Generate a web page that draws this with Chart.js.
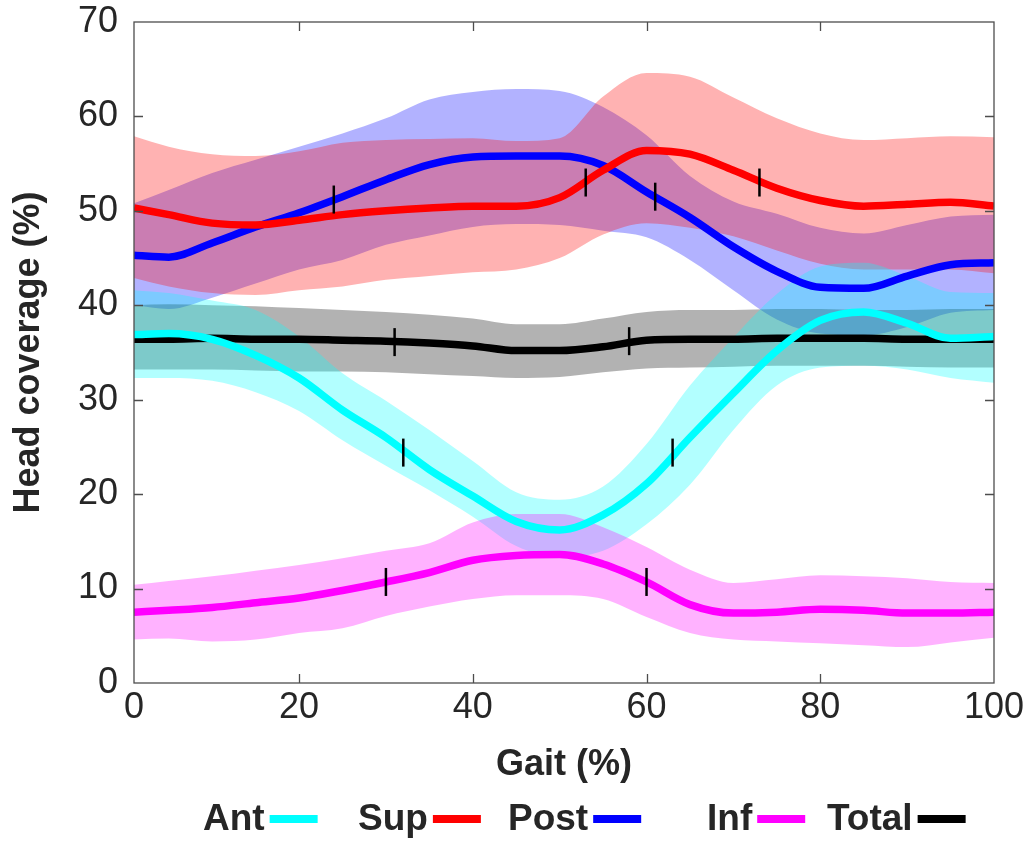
<!DOCTYPE html>
<html>
<head>
<meta charset="utf-8">
<script src="https://cdn.jsdelivr.net/npm/chart.js@4.4.1/dist/chart.umd.min.js"></script>
<style>
  html, body { margin: 0; background: #fff; }
  #wrap { width: 1033px; height: 842px; }
</style>
</head>
<body>
<div id="wrap"><canvas id="chart" width="1033" height="842"></canvas></div>
<script>
// gait cycle samples (%)
const gait = [1, 5, 10, 15, 20, 25, 30, 35, 40, 45, 50, 55, 60, 65, 70, 75, 80, 85, 90, 95, 100];

// head coverage (%) - mean and band edges
const antMean  = [36.9, 37.0, 36.4, 34.7, 32.3, 28.9, 26.0, 22.6, 19.8, 17.1, 16.2, 17.8, 21.1, 26.0, 30.7, 35.2, 38.4, 39.3, 38.1, 36.5, 36.7];
const antUpper = [41.6, 41.3, 40.5, 39.5, 36.7, 32.8, 29.9, 26.8, 23.5, 20.2, 19.4, 20.8, 25.3, 31.5, 36.6, 41.2, 44.1, 44.5, 43.1, 41.4, 41.3];
const antLower = [32.3, 32.3, 32.0, 30.8, 28.8, 25.7, 23.0, 20.4, 17.6, 14.5, 13.3, 14.0, 16.8, 21.0, 26.8, 31.5, 33.4, 33.6, 33.2, 32.3, 31.8];

const supMean  = [50.3, 49.6, 48.7, 48.5, 49.0, 49.6, 50.0, 50.3, 50.5, 50.5, 51.4, 54.3, 56.4, 56.0, 54.3, 52.4, 51.1, 50.5, 50.7, 50.9, 50.5];
const supUpper = [57.9, 56.8, 56.0, 55.8, 56.3, 57.2, 57.5, 57.6, 57.7, 57.4, 57.7, 62.1, 64.6, 64.2, 62.0, 59.8, 58.2, 57.5, 57.7, 57.9, 57.8];
const supLower = [42.9, 42.0, 41.3, 41.1, 41.6, 42.0, 42.7, 43.1, 43.5, 43.8, 45.0, 47.5, 48.7, 48.2, 47.3, 45.8, 44.4, 43.8, 43.8, 43.8, 43.4];

const postMean  = [45.3, 45.1, 46.6, 48.3, 49.8, 51.5, 53.3, 54.9, 55.7, 55.8, 55.8, 54.8, 52.0, 49.3, 46.2, 43.6, 41.9, 41.8, 43.1, 44.3, 44.5];
const postUpper = [50.8, 52.2, 54.0, 55.4, 56.8, 58.2, 59.8, 61.8, 62.6, 62.9, 62.7, 61.0, 58.0, 53.7, 51.0, 49.7, 48.2, 47.6, 48.5, 49.4, 49.6];
const postLower = [40.0, 39.6, 40.8, 42.3, 43.8, 44.8, 46.4, 47.4, 48.3, 48.6, 48.5, 47.9, 47.2, 44.8, 41.6, 38.5, 37.0, 36.8, 37.7, 39.2, 39.5];

const infMean  = [7.5, 7.7, 8.0, 8.5, 9.0, 9.8, 10.7, 11.7, 13.0, 13.5, 13.6, 12.6, 10.7, 8.3, 7.4, 7.5, 7.8, 7.7, 7.4, 7.4, 7.5];
const infUpper = [10.4, 10.8, 11.3, 11.9, 12.5, 13.2, 14.0, 14.8, 17.0, 17.9, 17.9, 16.5, 14.4, 12.0, 10.6, 11.0, 11.4, 11.3, 11.1, 10.7, 10.6];
const infLower = [4.6, 4.7, 4.4, 4.6, 5.3, 5.8, 7.1, 8.1, 8.9, 9.3, 9.3, 8.9, 7.0, 5.3, 4.6, 4.4, 4.2, 4.0, 3.8, 4.3, 4.8];

const totalMean  = [36.4, 36.4, 36.5, 36.4, 36.4, 36.3, 36.2, 36.0, 35.7, 35.2, 35.2, 35.6, 36.3, 36.4, 36.4, 36.5, 36.5, 36.5, 36.4, 36.4, 36.4];
const totalUpper = [40.0, 40.1, 40.0, 39.9, 39.7, 39.5, 39.3, 39.0, 38.6, 38.0, 38.0, 38.6, 39.3, 39.5, 39.5, 39.6, 39.6, 39.5, 39.5, 39.6, 39.6];
const totalLower = [33.2, 33.2, 33.2, 33.1, 33.0, 33.0, 32.9, 32.7, 32.5, 32.3, 32.4, 32.9, 33.3, 33.4, 33.5, 33.6, 33.6, 33.6, 33.5, 33.4, 33.4];

// short vertical event marks on each curve
const antMarkX = [32, 63],   antMarkY = [24.4, 24.4];
const supMarkX = [53, 73],   supMarkY = [53.0, 53.0];
const postMarkX = [24, 61],  postMarkY = [51.2, 51.5];
const infMarkX = [30, 60],   infMarkY = [10.7, 10.7];
const totalMarkX = [31, 58], totalMarkY = [36.1, 36.2];

// axes
const xTicks = [1, 20, 40, 60, 80, 100];
const xTickLabels = ['0', '20', '40', '60', '80', '100'];
const yTicks = [0, 10, 20, 30, 40, 50, 60, 70];

const seriesNames = ['Ant', 'Sup', 'Post', 'Inf', 'Total'];
const seriesColors = ['#00ffff', '#ff0000', '#0000ff', '#ff00ff', '#000000'];
const bandColors = ['rgba(0,255,255,0.3)', 'rgba(255,0,0,0.3)', 'rgba(0,0,255,0.3)', 'rgba(255,0,255,0.3)', 'rgba(0,0,0,0.3)'];

const FONT = '"Liberation Sans", Arial, Helvetica, sans-serif';
const TEXT = '#262626';
const AXIS = '#4d4d4d';

const pts = (xs, ys) => xs.map((x, i) => ({ x: x, y: ys[i] }));

const series = [
  { mean: antMean, up: antUpper, lo: antLower, mx: antMarkX, my: antMarkY },
  { mean: supMean, up: supUpper, lo: supLower, mx: supMarkX, my: supMarkY },
  { mean: postMean, up: postUpper, lo: postLower, mx: postMarkX, my: postMarkY },
  { mean: infMean, up: infUpper, lo: infLower, mx: infMarkX, my: infMarkY },
  { mean: totalMean, up: totalUpper, lo: totalLower, mx: totalMarkX, my: totalMarkY }
];
// stacking (higher order is drawn first, i.e. underneath)
const bandOrder = [17, 18, 20, 16, 19];
const lineOrder = [3, 1, 2, 5, 4];

const datasets = [];
series.forEach((s, i) => {
  // band: upper filled down to the next dataset (lower)
  datasets.push({
    label: seriesNames[i] + ' upper', data: pts(gait, s.up),
    borderWidth: 0, pointRadius: 0, backgroundColor: bandColors[i],
    fill: '+1', cubicInterpolationMode: 'monotone', order: bandOrder[i]
  });
  datasets.push({
    label: seriesNames[i] + ' lower', data: pts(gait, s.lo),
    borderWidth: 0, pointRadius: 0, fill: false, cubicInterpolationMode: 'monotone', order: bandOrder[i]
  });
});
series.forEach((s, i) => {
  datasets.push({
    label: seriesNames[i], data: pts(gait, s.mean),
    borderColor: seriesColors[i], borderWidth: 7.5, pointRadius: 0,
    fill: false, cubicInterpolationMode: 'monotone', order: lineOrder[i]
  });
});
series.forEach((s, i) => {
  datasets.push({
    type: 'scatter', label: seriesNames[i] + ' marks', data: pts(s.mx, s.my),
    pointStyle: 'line', rotation: 90, pointRadius: 14, borderWidth: 2.5,
    borderColor: '#000', backgroundColor: '#000', order: 0
  });
});

// box, inward ticks, axis titles and legend
const decorations = {
  id: 'decorations',
  afterDraw(chart) {
    const ctx = chart.ctx;
    const a = chart.chartArea;
    const xs = chart.scales.x, ys = chart.scales.y;
    ctx.save();
    ctx.strokeStyle = AXIS;
    ctx.lineWidth = 1.3;
    ctx.strokeRect(a.left, a.top, a.right - a.left, a.bottom - a.top);
    ctx.beginPath();
    xTicks.slice(1, -1).forEach(v => {
      const px = Math.round(xs.getPixelForValue(v)) + 0.5;
      ctx.moveTo(px, a.bottom); ctx.lineTo(px, a.bottom - 9);
      ctx.moveTo(px, a.top); ctx.lineTo(px, a.top + 9);
    });
    yTicks.slice(1, -1).forEach(v => {
      const py = Math.round(ys.getPixelForValue(v)) + 0.5;
      ctx.moveTo(a.left, py); ctx.lineTo(a.left + 9, py);
      ctx.moveTo(a.right, py); ctx.lineTo(a.right - 9, py);
    });
    ctx.stroke();

    // axis titles
    ctx.fillStyle = TEXT;
    ctx.font = 'bold 36px ' + FONT;
    ctx.textAlign = 'center';
    ctx.textBaseline = 'middle';
    ctx.fillText('Gait (%)', (a.left + a.right) / 2, 765);
    ctx.save();
    ctx.translate(29, (a.top + a.bottom) / 2);
    ctx.rotate(-Math.PI / 2);
    ctx.fillText('Head coverage (%)', 0, 0);
    ctx.restore();

    // legend: label then line sample
    const legendX = [203, 358, 508, 707, 827];
    ctx.font = 'bold 37px ' + FONT;
    ctx.textAlign = 'left';
    ctx.textBaseline = 'alphabetic';
    seriesNames.forEach((name, i) => {
      ctx.fillStyle = TEXT;
      ctx.fillText(name, legendX[i], 830);
      const x0 = legendX[i] + ctx.measureText(name).width + 5;
      ctx.fillStyle = seriesColors[i];
      ctx.fillRect(x0, 815, 48, 8);
    });
    ctx.restore();
  }
};

Chart.defaults.font.family = FONT;

new Chart(document.getElementById('chart').getContext('2d'), {
  type: 'line',
  data: { datasets: datasets },
  options: {
    responsive: false,
    animation: false,
    devicePixelRatio: 1,
    layout: { padding: { top: 22, right: 39, left: 0, bottom: 0 } },
    plugins: { legend: { display: false }, tooltip: { enabled: false } },
    scales: {
      x: {
        type: 'linear', min: 1, max: 100,
        afterBuildTicks: s => { s.ticks = xTicks.map(v => ({ value: v })); },
        afterFit: s => { s.height = 159; s.paddingLeft = 0; s.paddingRight = 0; },
        grid: { display: false, drawTicks: false },
        border: { display: false },
        ticks: {
          color: TEXT, font: { size: 36 }, padding: 3, maxRotation: 0,
          callback: v => xTickLabels[xTicks.indexOf(v)]
        }
      },
      y: {
        min: 0, max: 70,
        afterBuildTicks: s => { s.ticks = yTicks.map(v => ({ value: v })); },
        afterFit: s => { s.width = 134; s.paddingTop = 0; s.paddingBottom = 0; },
        grid: { display: false, drawTicks: false },
        border: { display: false },
        ticks: { color: TEXT, font: { size: 36 }, padding: 16 }
      }
    }
  },
  plugins: [decorations]
});
</script>
</body>
</html>
